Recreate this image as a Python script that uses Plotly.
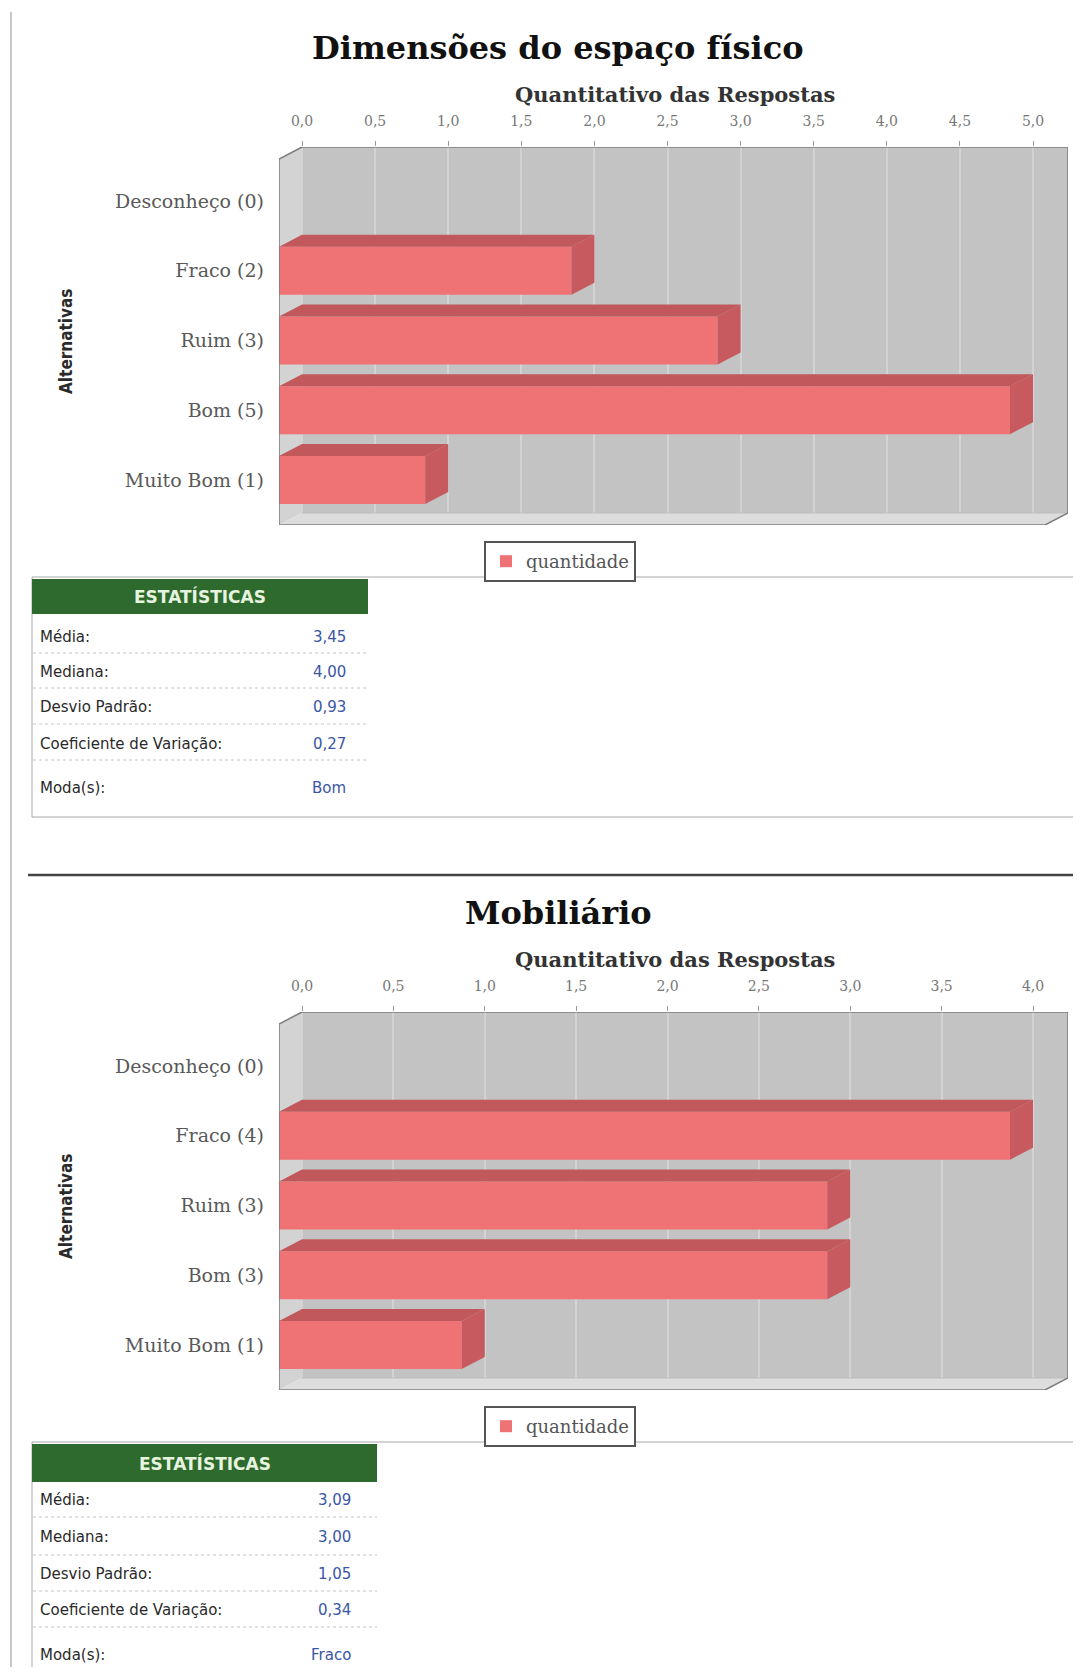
import plotly.graph_objects as go

W, H = 1081, 1675          # page (screenshot) size
BODY = 8                   # default body margin of the html page
FW, FH = W - BODY, H - 2 * BODY

# ---------------- data ----------------
TITLE_1 = "Dimensões do espaço físico"
TITLE_2 = "Mobiliário"
AXIS_TITLE = "Quantitativo das Respostas"
YAXIS_TITLE = "Alternativas"
SERIES_NAME = "quantidade"

CATEGORIES_1 = ["Desconheço (0)", "Fraco (2)", "Ruim (3)", "Bom (5)", "Muito Bom (1)"]
VALUES_1 = [0, 2, 3, 5, 1]
TICKVALS_1 = [0, 0.5, 1, 1.5, 2, 2.5, 3, 3.5, 4, 4.5, 5]
TICKTEXT_1 = ["0,0", "0,5", "1,0", "1,5", "2,0", "2,5", "3,0", "3,5", "4,0", "4,5", "5,0"]

CATEGORIES_2 = ["Desconheço (0)", "Fraco (4)", "Ruim (3)", "Bom (3)", "Muito Bom (1)"]
VALUES_2 = [0, 4, 3, 3, 1]
TICKVALS_2 = [0, 0.5, 1, 1.5, 2, 2.5, 3, 3.5, 4]
TICKTEXT_2 = ["0,0", "0,5", "1,0", "1,5", "2,0", "2,5", "3,0", "3,5", "4,0"]

STATS_HEADER = "ESTATÍSTICAS"
STATS_LABELS = ["Média:", "Mediana:", "Desvio Padrão:", "Coeficiente de Variação:", "Moda(s):"]
STATS_VALUES_1 = ["3,45", "4,00", "0,93", "0,27", "Bom"]
STATS_VALUES_2 = ["3,09", "3,00", "1,05", "0,34", "Fraco"]

# ---------------- layout constants (page pixels) ----------------
FRONT_LEFT = 279
BACK_LEFT = 302
PLOT_RIGHT = 1068
TICK_MAX_PX = 1033
PLOT_TOP = 147
PLOT_BOTTOM = 525
DEPTH_X = 23
DEPTH_Y = 12
CAT0_PX = 201
CAT_STEP = 69.75
BAR_HALF = 24
OFFSETS = [0, 865]

C_FRONT = "#ef7275"
C_TOP = "#c0585c"
C_SIDE = "#c65a5e"
C_BACK = "#c3c3c3"
C_LEFT = "#d3d3d3"
C_FLOOR = "#dddddd"
C_EDGE = "#7c7c7c"

SERIF = "DejaVu Serif, Liberation Serif, serif"
SANS = "DejaVu Sans, Verdana, sans-serif"
NARROW = "Liberation Sans Narrow, DejaVu Sans Condensed, sans-serif"


def px_x(px):
    return (px - BODY) / FW


def px_y(py):
    return 1 - (py - BODY) / FH


fig = go.Figure()
shapes = []
annotations = []

charts = [
    (TITLE_1, CATEGORIES_1, VALUES_1, TICKVALS_1, TICKTEXT_1),
    (TITLE_2, CATEGORIES_2, VALUES_2, TICKVALS_2, TICKTEXT_2),
]

for k, (title, cats, vals, tv, tt) in enumerate(charts):
    off = OFFSETS[k]
    xa = "x" if k == 0 else "x2"
    ya = "y" if k == 0 else "y2"
    xname = "xaxis" if k == 0 else "xaxis2"
    yname = "yaxis" if k == 0 else "yaxis2"
    legname = "legend" if k == 0 else "legend2"

    scale = (TICK_MAX_PX - BACK_LEFT) / max(tv)
    dx = DEPTH_X / scale
    xr = [(FRONT_LEFT - BACK_LEFT) / scale, (PLOT_RIGHT - BACK_LEFT) / scale]

    def yv(py, off=off):
        return (py - (CAT0_PX + off)) / CAT_STEP

    y_top = yv(PLOT_TOP + off)
    y_bot = yv(PLOT_BOTTOM + off)
    dy = DEPTH_Y / CAT_STEP
    h = BAR_HALF / CAT_STEP
    n = len(cats)
    idx = list(range(n))

    # front faces
    fig.add_trace(go.Bar(
        orientation="h", y=idx, x=vals, base=[-dx] * n, width=2 * h,
        marker=dict(color=C_FRONT, line=dict(width=0)),
        name=SERIES_NAME, xaxis=xa, yaxis=ya, legend=legname,
        showlegend=True, hoverinfo="skip",
    ))
    # top faces and side faces
    tx, ty, sx, sy = [], [], [], []
    for i, v in enumerate(vals):
        if v <= 0:
            continue
        yt, yb = i - h, i + h
        tx += [-dx, v - dx, v, 0, -dx, None]
        ty += [yt, yt, yt - dy, yt - dy, yt, None]
        sx += [v - dx, v, v, v - dx, v - dx, None]
        sy += [yt, yt - dy, yb - dy, yb, yt, None]
    fig.add_trace(go.Scatter(x=tx, y=ty, fill="toself", fillcolor=C_TOP, mode="lines",
                             line=dict(width=0, color=C_TOP), xaxis=xa, yaxis=ya,
                             showlegend=False, hoverinfo="skip"))
    fig.add_trace(go.Scatter(x=sx, y=sy, fill="toself", fillcolor=C_SIDE, mode="lines",
                             line=dict(width=0, color=C_SIDE), xaxis=xa, yaxis=ya,
                             showlegend=False, hoverinfo="skip"))

    xmax = xr[1]
    yb_back = y_bot - dy
    # back wall
    shapes.append(dict(type="rect", xref=xa, yref=ya, x0=0, x1=xmax, y0=y_top, y1=yb_back,
                       fillcolor=C_BACK, line=dict(width=0), layer="below"))
    # left wall
    shapes.append(dict(type="path", xref=xa, yref=ya,
                       path=f"M0,{y_top} L0,{yb_back} L{-dx},{y_bot} L{-dx},{y_top + dy} Z",
                       fillcolor=C_LEFT, line=dict(width=0), layer="below"))
    # floor
    shapes.append(dict(type="path", xref=xa, yref=ya,
                       path=f"M{-dx},{y_bot} L0,{yb_back} L{xmax},{yb_back} L{xmax - dx},{y_bot} Z",
                       fillcolor=C_FLOOR, line=dict(width=0), layer="between"))
    # frame outline
    shapes.append(dict(type="path", xref=xa, yref=ya,
                       path=(f"M{-dx},{y_bot} L{-dx},{y_top + dy} L0,{y_top} L{xmax},{y_top} "
                             f"L{xmax},{yb_back} L{xmax - dx},{y_bot} Z"),
                       line=dict(color=C_EDGE, width=1.5), layer="above"))
    shapes.append(dict(type="line", xref=xa, yref=ya, x0=0, x1=xmax, y0=yb_back, y1=yb_back,
                       line=dict(color="#bdbdbd", width=1), layer="between"))

    fig.layout[xname] = dict(
        domain=[px_x(FRONT_LEFT), px_x(PLOT_RIGHT)], anchor=ya, side="top",
        range=xr, tickvals=tv, ticktext=tt, ticks="outside", ticklen=5,
        tickcolor="#999999", tickwidth=1, ticklabelstandoff=9,
        showgrid=True, gridcolor="#d3d3d3", gridwidth=2, zeroline=False, showline=False,
        tickfont=dict(family=SERIF, size=14, color="#777777"), fixedrange=True,
    )
    fig.layout[yname] = dict(
        domain=[px_y(PLOT_BOTTOM + off), px_y(PLOT_TOP + off)], anchor=xa,
        range=[y_bot, y_top], tickvals=idx, ticktext=cats, ticks="",
        ticklabelstandoff=14, showgrid=False, zeroline=False, showline=False,
        tickfont=dict(family=SERIF, size=19, color="#595959"), fixedrange=True,
    )

    # titles
    annotations.append(dict(text=f"<b>{title}</b>", x=px_x(558), y=px_y(48 + off), xref="paper",
                            yref="paper", showarrow=False, xanchor="center", yanchor="middle",
                            font=dict(family=SERIF, size=32, color="#111111")))
    annotations.append(dict(text=f"<b>{AXIS_TITLE}</b>", x=px_x(675), y=px_y(94 + off), xref="paper",
                            yref="paper", showarrow=False, xanchor="center", yanchor="middle",
                            font=dict(family=SERIF, size=21, color="#333333")))
    annotations.append(dict(text=f"<b>{YAXIS_TITLE}</b>", x=px_x(66), y=px_y(342 + off), xref="paper",
                            yref="paper", showarrow=False, xanchor="center", yanchor="middle",
                            textangle=-90,
                            font=dict(family=NARROW, size=17, color="#2a2a2a")))

    fig.layout[legname] = dict(
        x=px_x(560), y=px_y(541 + off), xanchor="center", yanchor="top",
        xref="paper", yref="paper", orientation="h",
        bordercolor="#555555", borderwidth=2, bgcolor="white",
        font=dict(family=SERIF, size=18, color="#555555"), itemclick=False,
    )

# ---------------- statistics tables & page decorations ----------------
TABLES = [
    dict(values=STATS_VALUES_1, top=579, hbot=614, right=368, vright=348,
         rows=[637, 672, 707, 744, 788], seps=[653, 688, 724, 760], box=(577, 817)),
    dict(values=STATS_VALUES_2, top=1444, hbot=1482, right=377, vright=353,
         rows=[1500, 1537, 1574, 1610, 1655], seps=[1517, 1555, 1591, 1627], box=(1442, 1700)),
]

# left page border
shapes.append(dict(type="line", xref="paper", yref="paper", x0=px_x(11), x1=px_x(11),
                   y0=px_y(12), y1=px_y(H + 20), line=dict(color="#c8c8c8", width=2)))
# separator between the two charts
shapes.append(dict(type="line", xref="paper", yref="paper", x0=px_x(28), x1=px_x(W + 5),
                   y0=px_y(875), y1=px_y(875), line=dict(color="#444444", width=2.5)))

for t in TABLES:
    b0, b1 = t["box"]
    shapes.append(dict(type="rect", xref="paper", yref="paper", x0=px_x(32), x1=px_x(W + 5),
                       y0=px_y(b0), y1=px_y(b1), line=dict(color="#a8a8a8", width=1)))
    shapes.append(dict(type="rect", xref="paper", yref="paper", x0=px_x(32), x1=px_x(t["right"]),
                       y0=px_y(t["top"]), y1=px_y(t["hbot"]), fillcolor="#2e6a2e",
                       line=dict(width=0)))
    annotations.append(dict(text=f"<b>{STATS_HEADER}</b>", x=px_x((32 + t["right"]) / 2),
                            y=px_y((t["top"] + t["hbot"]) / 2), xref="paper", yref="paper",
                            showarrow=False, xanchor="center", yanchor="middle",
                            font=dict(family=SANS, size=17, color="#e6f3df")))
    for s in t["seps"]:
        shapes.append(dict(type="line", xref="paper", yref="paper", x0=px_x(33), x1=px_x(t["right"]),
                           y0=px_y(s), y1=px_y(s), line=dict(color="#c4c4c4", width=1, dash="dot")))
    for lab, val, ry in zip(STATS_LABELS, t["values"], t["rows"]):
        annotations.append(dict(text=lab, x=px_x(38), y=px_y(ry), xref="paper", yref="paper",
                                showarrow=False, xanchor="left", yanchor="middle",
                                font=dict(family=SANS, size=15, color="#2a2a2a")))
        annotations.append(dict(text=val, x=px_x(t["vright"]), y=px_y(ry), xref="paper", yref="paper",
                                showarrow=False, xanchor="right", yanchor="middle",
                                font=dict(family=SANS, size=15, color="#3a56a6")))

fig.update_layout(
    width=FW, height=FH, margin=dict(l=0, r=0, t=0, b=0, pad=0),
    paper_bgcolor="white", plot_bgcolor="white",
    shapes=shapes, annotations=annotations, barmode="overlay",
)

fig.write_html("out.html", config={"displayModeBar": False})
